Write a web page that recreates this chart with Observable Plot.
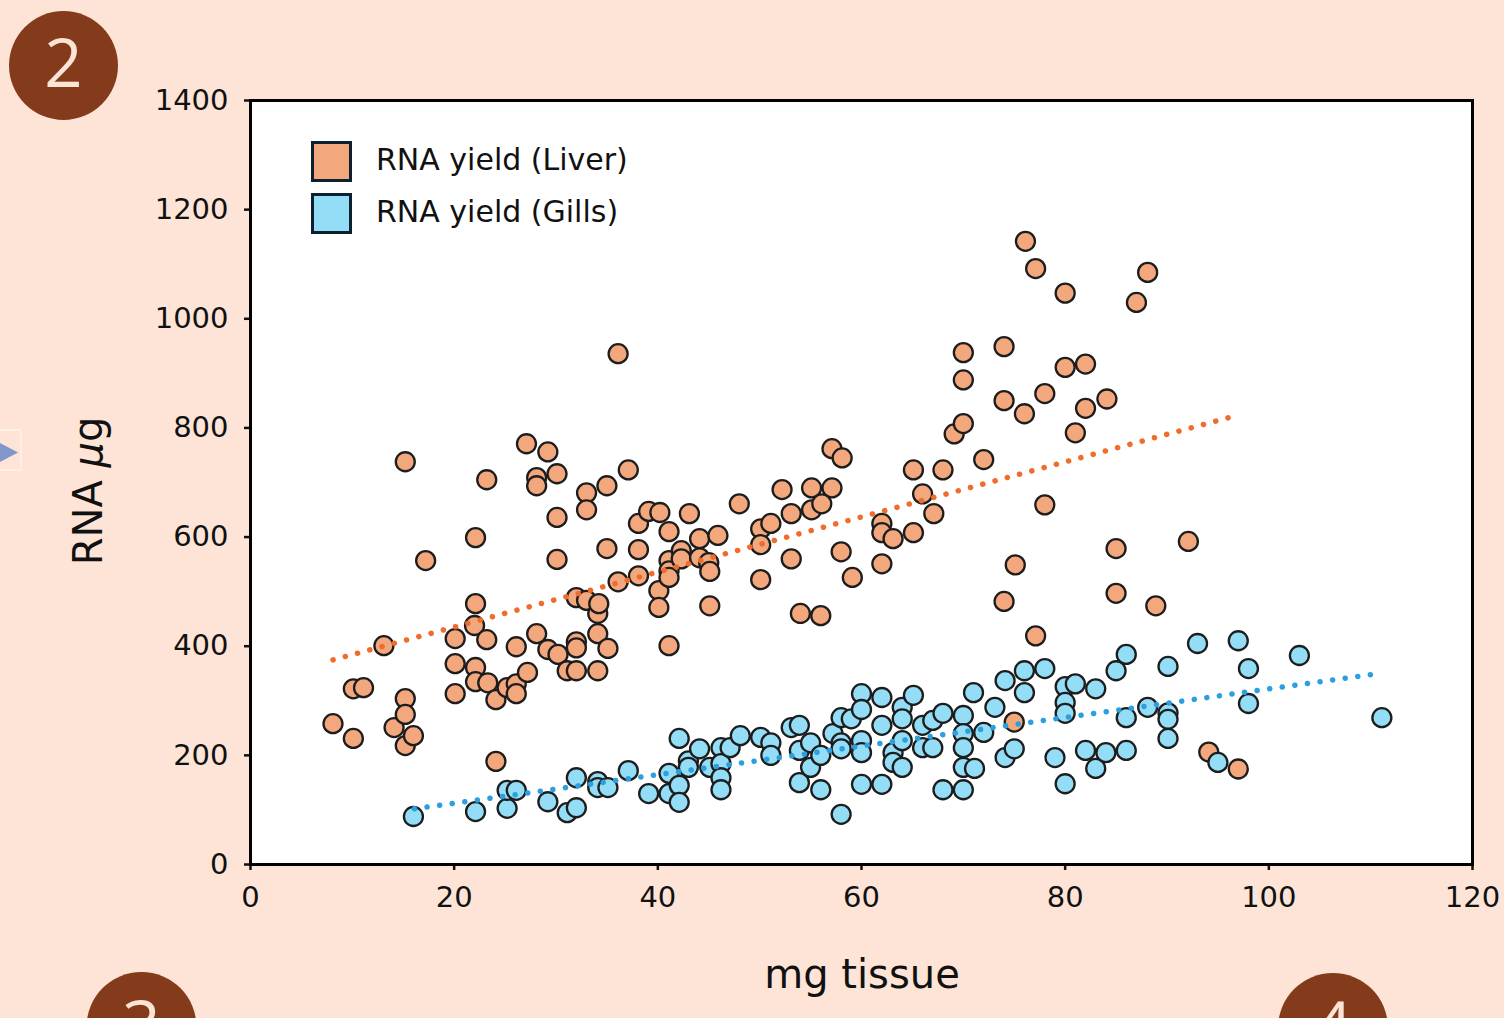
<!DOCTYPE html>
<html>
<head>
<meta charset="utf-8">
<script src="https://cdn.jsdelivr.net/npm/d3@7"></script>
<script src="https://cdn.jsdelivr.net/npm/@observablehq/plot@0.6"></script>
<style>
  html, body { margin: 0; padding: 0; background: #fde4d6; }
  body { width: 1504px; height: 1018px; position: relative; overflow: hidden; font-family: "DejaVu Sans", sans-serif; }
  #chart { position: absolute; left: 0; top: 0; }
  #deco { position: absolute; left: 0; top: 0; pointer-events: none; }
  .legend { position: absolute; left: 311px; top: 135px; }
  .item { display: flex; align-items: center; height: 52px; font-size: 30px; color: #111; white-space: nowrap; }
  .item span { position: relative; top: -2px; }
  .sw { width: 35px; height: 35px; border: 3px solid #0c2030; margin-right: 24px; box-sizing: content-box; }
  .xlabel { position: absolute; left: 662px; width: 400px; top: 954px; text-align: center; font-size: 40px; line-height: 40px; color: #111; }
  .ylabel { position: absolute; left: 88px; top: 491px; transform: translate(-50%, -50%) rotate(-90deg); font-size: 40px; line-height: 40px; white-space: nowrap; color: #111; }
</style>
</head>
<body>
<div id="chart"></div>
<div class="legend">
  <div class="item"><div class="sw" style="background:#f2a77c"></div><span>RNA yield (Liver)</span></div>
  <div class="item"><div class="sw" style="background:#93ddf6"></div><span>RNA yield (Gills)</span></div>
</div>
<div class="xlabel">mg tissue</div>
<div class="ylabel">RNA <i>μ</i>g</div>
<svg id="deco" width="1504" height="1018">
  <rect x="-1" y="430" width="22" height="40" fill="none" stroke="#fff2ea" stroke-width="1.5"></rect>
  <polygon points="0,443 18,452.5 0,462" fill="#8196cb"></polygon>
  <circle cx="63.5" cy="65.5" r="54.5" fill="#843b1c"></circle>
  <text x="63.5" y="87" text-anchor="middle" font-family="Open Sans" font-size="67" fill="#fbe3d5">2</text>
  <circle cx="141.5" cy="1027" r="55" fill="#843b1c"></circle>
  <text x="141.5" y="1048.5" text-anchor="middle" font-family="Open Sans" font-size="67" fill="#fbe3d5">3</text>
  <circle cx="1333" cy="1028" r="55" fill="#843b1c"></circle>
  <text x="1333" y="1049.5" text-anchor="middle" font-family="Open Sans" font-size="67" fill="#fbe3d5">4</text>
</svg>
<script>
const xTicks = [0, 20, 40, 60, 80, 100, 120];
const yTicks = [0, 200, 400, 600, 800, 1000, 1200, 1400];

const liverX = [8.1,10.1,10.1,11.1,13.1,15.2,14.1,15.2,15.2,15.2,16.0,17.2,
  20.1,20.1,20.1,22.1,22.1,22.0,22.1,22.1,23.2,23.2,23.3,24.1,24.1,
  25.2,26.1,26.1,26.1,27.1,28.1,28.1,28.1,27.2,29.2,30.1,30.1,30.1,29.2,30.2,
  31.1,32.0,32.0,32.0,33.0,33.0,32.0,33.0,34.1,34.1,34.1,34.2,35.0,35.0,35.1,
  36.1,36.1,37.1,38.1,38.1,38.1,39.1,40.2,40.1,40.1,41.1,41.1,41.1,41.1,41.1,
  42.3,42.3,43.1,44.1,44.1,45.0,45.1,45.1,45.9,
  48.0,50.1,51.1,52.2,53.1,50.1,50.1,53.1,55.1,57.1,55.1,56.1,57.1,58.1,58.0,59.1,54.0,56.0,
  62.0,62.0,63.1,62.0,65.1,65.1,66.0,67.1,68.0,69.1,70.0,70.0,70.0,72.0,
  74.0,74.0,76.0,78.0,78.0,75.1,74.0,76.1,77.1,80.0,88.1,87.0,80.0,82.0,82.0,84.1,81.0,
  85.0,85.0,92.1,77.1,88.9,75.0,94.1,97.0];
const liverY = [258,231,322,324,401,738,251,304,275,218,236,557,
  414,368,313,599,478,438,361,335,705,412,333,302,189,
  324,331,313,399,771,709,694,423,352,756,716,636,559,394,385,
  355,408,397,355,681,650,489,484,460,423,355,478,694,579,396,
  936,518,723,625,577,529,647,645,502,471,610,557,538,526,401,
  575,560,643,597,562,553,537,474,603,
  661,615,625,687,643,586,522,560,690,690,650,661,762,745,573,526,460,456,
  625,608,597,551,723,608,679,643,723,789,808,888,938,742,
  949,850,826,863,659,549,482,1142,1092,1047,1085,1030,911,917,836,853,791,
  579,497,592,419,474,261,206,175];

const gillsX = [16.0,22.1,25.2,25.2,26.1,29.2,31.1,32.0,32.0,34.1,34.1,35.1,37.1,39.1,41.1,41.1,
  42.1,42.1,42.1,43.0,43.0,44.1,45.1,46.2,46.2,46.2,46.2,47.1,48.1,50.1,51.1,51.1,53.1,53.9,
  53.9,53.9,55.0,55.0,56.0,56.0,57.2,58.0,58.0,58.0,58.0,59.0,60.0,60.0,60.0,60.0,60.0,
  62.0,62.0,62.0,63.1,63.1,64.0,64.0,64.0,64.0,65.1,66.0,66.0,67.0,67.0,68.0,68.0,
  70.0,70.0,70.0,70.0,70.0,71.0,71.1,72.0,73.1,74.1,74.1,75.0,76.0,76.0,78.0,79.0,
  80.0,80.0,80.0,80.0,81.0,82.0,83.0,83.0,84.0,85.0,86.0,86.0,86.0,88.1,90.1,90.1,90.1,90.1,
  93.0,95.0,97.0,98.0,98.0,103.0,111.1];
const gillsY = [88,97,103,136,136,115,95,104,159,152,141,141,172,130,167,130,
  145,114,231,190,178,212,178,214,185,159,137,214,236,233,223,200,251,255,
  209,150,223,178,200,137,240,269,223,212,92,267,313,284,227,205,147,
  306,255,147,205,187,288,267,227,178,310,255,214,264,214,277,137,
  273,240,214,178,137,315,176,242,288,337,196,212,355,315,359,196,
  326,297,277,148,331,209,176,322,205,355,385,269,209,288,363,278,266,231,
  405,187,410,359,295,383,269];

const trendLiverX = [8.1, 96.3];
const trendLiverY = [375, 820];
const trendGillsX = [16.1, 110.4];
const trendGillsY = [102, 349];

const liver = liverX.map((x, i) => ({x, y: liverY[i]}));
const gills = gillsX.map((x, i) => ({x, y: gillsY[i]}));
const trendLiver = trendLiverX.map((x, i) => ({x, y: trendLiverY[i]}));
const trendGills = trendGillsX.map((x, i) => ({x, y: trendGillsY[i]}));

const fmt = d3.format("d");
const chart = Plot.plot({
  width: 1504,
  height: 1018,
  marginLeft: 250,
  marginRight: 32,
  marginTop: 100,
  marginBottom: 154,
  x: {domain: [0, 120]},
  y: {domain: [0, 1400]},
  style: {background: "transparent", fontFamily: "DejaVu Sans", fontSize: "29px", color: "#111"},
  marks: [
    Plot.frame({fill: "white"}),
    Plot.axisX({ticks: xTicks, tickSize: 6, tickPadding: 16, label: null, strokeWidth: 2.5, fontSize: 29, tickFormat: fmt}),
    Plot.axisY({ticks: yTicks, tickSize: 6, tickPadding: 16, label: null, strokeWidth: 2.5, fontSize: 29, tickFormat: fmt}),
    Plot.dot(liver, {x: "x", y: "y", r: 9.5, fill: "#f2a77c", stroke: "#1d1d1d", strokeWidth: 2.3}),
    Plot.dot(gills, {x: "x", y: "y", r: 9.5, fill: "#93ddf6", stroke: "#1d1d1d", strokeWidth: 2.3}),
    Plot.line(trendLiver, {x: "x", y: "y", stroke: "#ef6c2c", strokeWidth: 5.5, strokeDasharray: "0.1 12.6", strokeLinecap: "round"}),
    Plot.line(trendGills, {x: "x", y: "y", stroke: "#2c9fe0", strokeWidth: 5.5, strokeDasharray: "0.1 12.6", strokeLinecap: "round"}),
    Plot.frame({stroke: "#000", strokeWidth: 3})
  ]
});
document.getElementById("chart").appendChild(chart);
</script>
</body>
</html>
